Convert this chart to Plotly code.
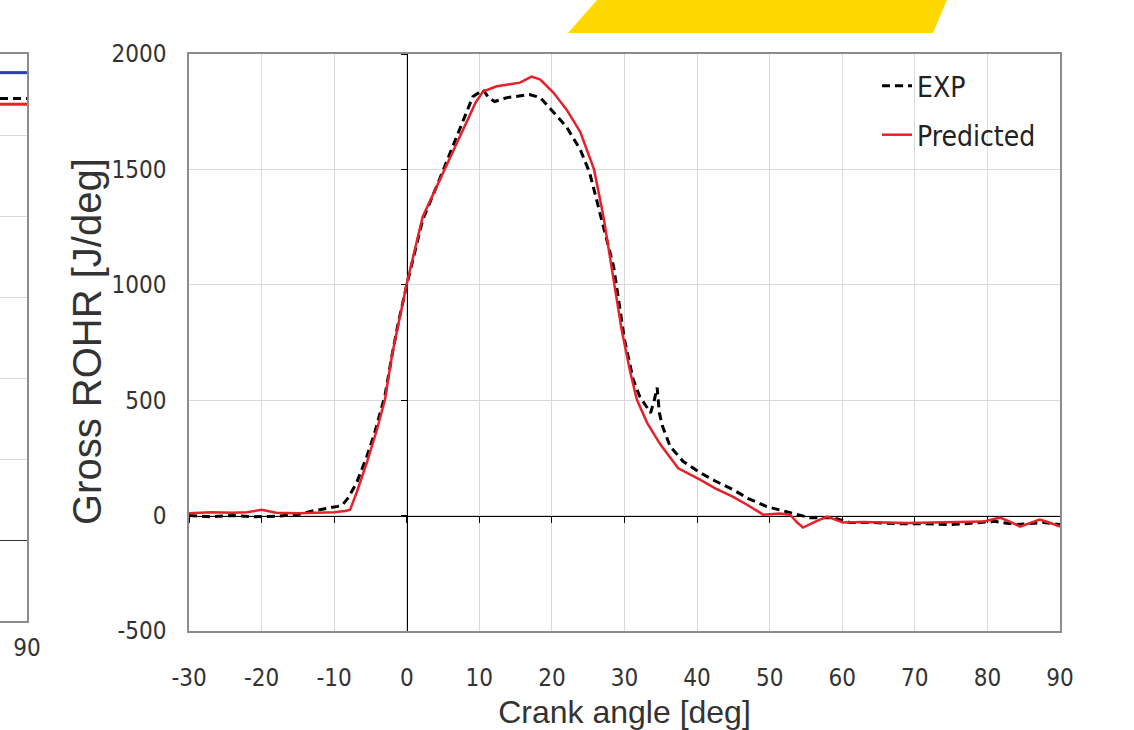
import plotly.graph_objects as go

W, H = 1134, 730

# Gross rate of heat release [J/deg] against crank angle [deg]
exp_angle = [-30, -27, -24, -21, -18, -15, -13, -11, -9.5, -8.8, -8, -6.9, -5.5, -4.5,
             -3.7, -3, -2, -1.2, 0, 0.4, 2.2, 4.5, 6.9, 9.1, 10.5, 11.3, 12.1, 13.8,
             15.5, 16.9, 18.4, 20.2, 22, 23.9, 25.2, 26.6, 28.5, 30, 31.2, 32.1, 33.1,
             33.6, 34.1, 34.5, 34.8, 35.2, 36.3, 38.1, 40.4, 42.5, 44.9, 47, 49.6, 52.4,
             55.5, 58.7, 61, 64, 68, 71, 74.8, 77, 79.4, 81, 84, 86, 87.7, 90]
exp_rohr = [0, -5, 0, -5, -3, 5, 20, 30, 40, 48, 80, 143, 256, 350,
            446, 520, 700, 830, 1000, 1053, 1282, 1456, 1642, 1815, 1845, 1810, 1794, 1811,
            1818, 1824, 1811, 1746, 1685, 1586, 1486, 1313, 1079, 763, 589, 516, 472,
            445, 500, 555, 446, 390, 299, 234, 186, 150, 113, 75, 39, 17,
            -9, -9, -30, -30, -35, -35, -39, -35, -30, -25, -39, -35, -30, -39]

pred_angle = [-30, -27, -24, -22, -20, -18, -15, -12, -10, -8.5, -7.8, -6.9, -5.5, -4.1,
              -3, -2, -1, 0, 2.2, 5.2, 7.7, 9.5, 10.5, 12.4, 14, 15.6, 17.2, 18.4, 20.2,
              22, 23.9, 25, 25.8, 27.1, 28.4, 29.6, 30.8, 31.7, 33.1, 34.9, 37.4, 40.4,
              42.5, 44.9, 47, 49.1, 51.4, 52.8, 53.8, 54.6, 56, 57.9, 60.1, 63, 65.6, 69,
              72.5, 76, 79.4, 81.7, 83, 84.5, 86, 87.2, 88.5, 90]
pred_rohr = [10, 15, 12, 15, 25, 12, 10, 12, 15, 20, 26, 100, 230, 373,
             503, 700, 850, 1005, 1295, 1500, 1672, 1790, 1837, 1860, 1868, 1876, 1902, 1889, 1833,
             1760, 1663, 1571, 1500, 1296, 1050, 806, 620, 503, 403, 310, 205, 156,
             118, 82, 45, 4, 9, 4, -30, -52, -30, -4, -30, -28, -30, -32,
             -30, -28, -26, -9, -25, -48, -30, -17, -30, -48]

x_ticks = list(range(-30, 91, 10))
x_tick_text = ["-30", "-20", "-10", "0", "10", "20", "30", "40", "50", "60", "70", "80", "90"]
y_ticks = list(range(-500, 2001, 500))
y_tick_text = ["-500", "0", "500", "1000", "1500", "2000"]

# Right edge of the neighbouring panel
side_angle = [80, 90]
side_blue = [5.77, 5.77]
side_exp = [5.45, 5.45]
side_pred = [5.38, 5.38]


def fx(p):
    return p / W


def fy(p):
    return 1 - p / H


NARROW = "DejaVu Sans Condensed, Liberation Sans Narrow, Roboto Condensed, Roboto"
TICK_FONT = dict(family=NARROW, size=24, color="#333333")
TITLE_COLOR = "#333333"
GRID = "#d9d9d9"
FRAME = "#8c8c8c"

fig = go.Figure()

fig.add_trace(go.Scatter(
    x=exp_angle, y=exp_rohr, mode="lines", name="EXP",
    line=dict(color="black", width=3, dash="8px,5px"), legend="legend"))
fig.add_trace(go.Scatter(
    x=pred_angle, y=pred_rohr, mode="lines", name="Predicted",
    line=dict(color="#e8202a", width=2.5), legend="legend2"))

# carrier for the axes drawn through the origin
fig.add_trace(go.Scatter(x=[], y=[], xaxis="x3", yaxis="y3",
                         showlegend=False, hoverinfo="skip"))

# neighbouring panel
fig.add_trace(go.Scatter(x=side_angle, y=side_blue, xaxis="x2", yaxis="y2", mode="lines",
                         line=dict(color="#2b3fa8", width=3), showlegend=False))
fig.add_trace(go.Scatter(x=side_angle, y=side_exp, xaxis="x2", yaxis="y2", mode="lines",
                         line=dict(color="black", width=3, dash="8px,5px"), showlegend=False))
fig.add_trace(go.Scatter(x=side_angle, y=side_pred, xaxis="x2", yaxis="y2", mode="lines",
                         line=dict(color="#e8202a", width=3), showlegend=False))

x_dom = [fx(189), fx(1060)]
y_dom = [fy(631), fy(54)]

fig.update_layout(
    template="none",
    width=W, height=H,
    margin=dict(l=0, r=0, t=0, b=0, autoexpand=False),
    paper_bgcolor="white", plot_bgcolor="white",
    xaxis=dict(
        domain=x_dom, range=[-30, 90], tickvals=x_ticks, ticktext=x_tick_text,
        anchor="y", automargin=False,
        showgrid=True, gridcolor=GRID, gridwidth=1, zeroline=False,
        showline=True, linecolor=FRAME, linewidth=1.5, mirror=True,
        ticks="", tickfont=TICK_FONT, ticklabelstandoff=24,
        title=dict(text="Crank angle [deg]", standoff=14,
                   font=dict(family="Liberation Sans", size=32, color=TITLE_COLOR)),
    ),
    yaxis=dict(
        domain=y_dom, range=[-500, 2000], tickvals=y_ticks, ticktext=y_tick_text,
        anchor="x", automargin=False,
        showgrid=True, gridcolor=GRID, gridwidth=1, zeroline=False,
        showline=True, linecolor=FRAME, linewidth=1.5, mirror=True,
        ticks="", tickfont=TICK_FONT, ticklabelstandoff=16,
    ),
    xaxis3=dict(
        overlaying="x", anchor="free", position=fy(516), range=[-30, 90],
        tickvals=x_ticks, ticks="outside", ticklen=6, tickcolor="black", tickwidth=1,
        showticklabels=False, showgrid=False, zeroline=False, automargin=False,
        showline=True, linecolor="black", linewidth=1.3, layer="below traces",
    ),
    yaxis3=dict(
        overlaying="y", anchor="free", position=fx(407), range=[-500, 2000],
        tickvals=y_ticks, ticks="outside", ticklen=6, tickcolor="black", tickwidth=1,
        showticklabels=False, showgrid=False, zeroline=False, automargin=False,
        showline=True, linecolor="black", linewidth=1.3, layer="below traces",
    ),
    xaxis2=dict(
        domain=[0, fx(27)], range=[80, 90], tickvals=[90], ticktext=["90"],
        anchor="y2", automargin=False,
        showgrid=False, zeroline=False, showline=True, linecolor=FRAME,
        linewidth=1.5, mirror=True, ticks="", tickfont=TICK_FONT, ticklabelstandoff=4,
    ),
    yaxis2=dict(
        domain=[fy(621), fy(54)], range=[-1, 6], dtick=1, anchor="x2", side="right",
        automargin=False,
        showgrid=True, gridcolor=GRID, zeroline=True, zerolinecolor="#333333",
        zerolinewidth=1.3, showline=True, linecolor=FRAME, linewidth=1.5,
        showticklabels=False, ticks="",
    ),
    legend=dict(x=fx(877), y=fy(86), xanchor="left", yanchor="middle",
                bgcolor="rgba(0,0,0,0)", borderwidth=0,
                font=dict(family=NARROW, size=28, color="#222222")),
    legend2=dict(x=fx(877), y=fy(135), xanchor="left", yanchor="middle",
                 bgcolor="rgba(0,0,0,0)", borderwidth=0,
                 font=dict(family=NARROW, size=28, color="#222222")),
    # vertical axis title, set close to the tick labels
    annotations=[dict(
        text="Gross ROHR [J/deg]", textangle=-90, xref="paper", yref="paper",
        x=fx(87), y=fy(342), xanchor="center", yanchor="middle", showarrow=False,
        font=dict(family="Liberation Sans", size=40, color=TITLE_COLOR),
    )],
    shapes=[dict(
        type="path", xref="paper", yref="paper",
        path=f"M {fx(568)},{fy(33)} L {fx(597)},{fy(0)} L {fx(947)},{fy(0)} "
             f"L {fx(933)},{fy(33)} Z",
        fillcolor="#ffd800", line=dict(width=0), layer="above",
    )],
    showlegend=True,
)

fig.write_html("out.html")
